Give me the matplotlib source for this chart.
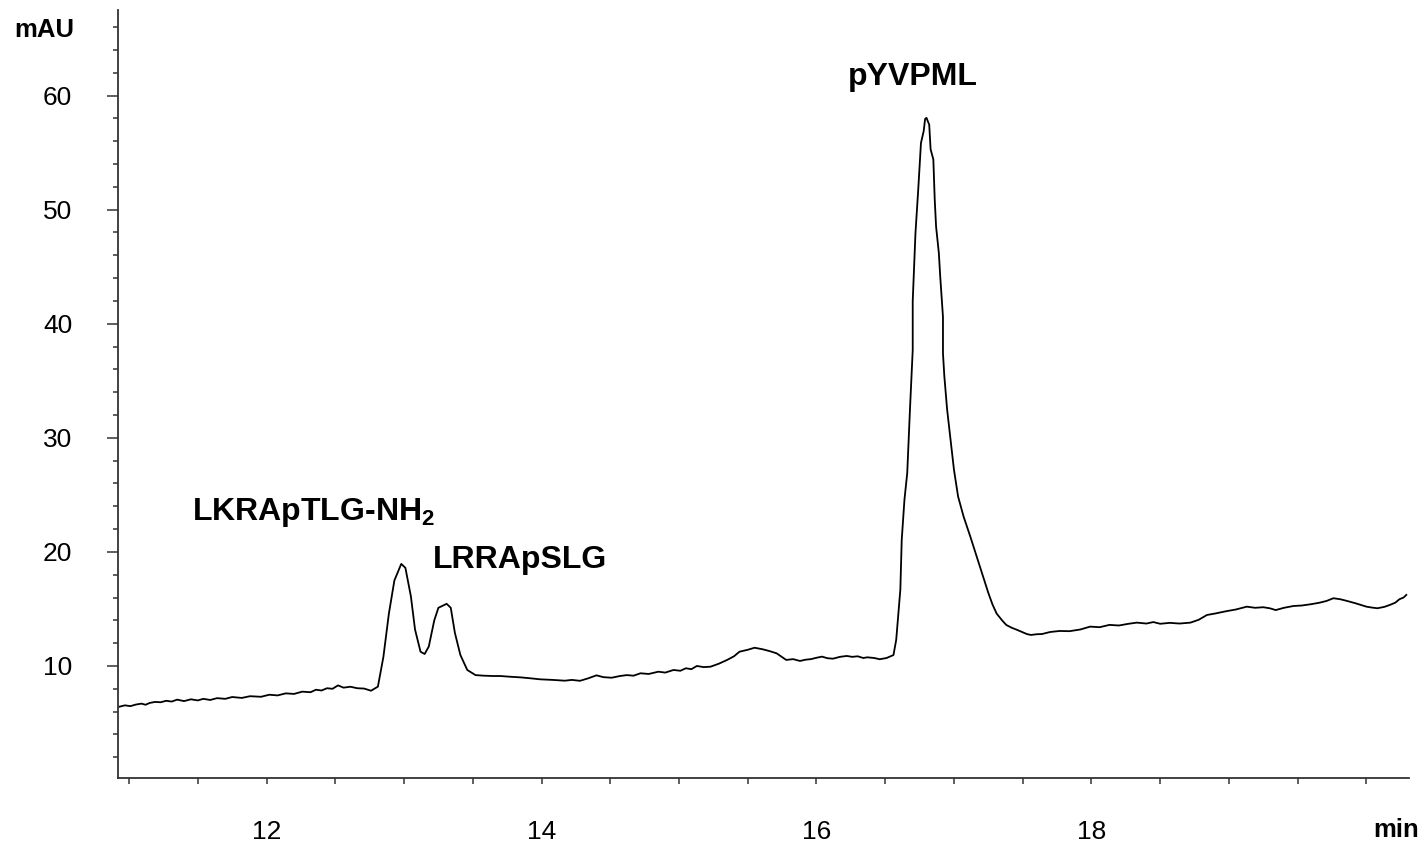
import matplotlib
matplotlib.use("Agg")
import matplotlib.pyplot as plt
from matplotlib.ticker import MultipleLocator, FixedLocator

plt.rcParams['font.family'] = ['Liberation Sans', 'DejaVu Sans']
plt.rcParams['mathtext.fontset'] = 'custom'
plt.rcParams['mathtext.rm'] = 'Liberation Sans'
plt.rcParams['mathtext.bf'] = 'Liberation Sans:bold'

# chromatogram trace (min, mAU)
time_min = [10.93, 10.97, 11.01, 11.05, 11.09, 11.12, 11.15, 11.19, 11.23, 11.27,
            11.31, 11.35, 11.40, 11.45, 11.50, 11.54, 11.59, 11.64, 11.70, 11.75,
            11.82, 11.88, 11.96, 12.02, 12.08, 12.14, 12.20, 12.26, 12.32, 12.36,
            12.40, 12.44, 12.48, 12.52, 12.56, 12.61, 12.66, 12.71, 12.76, 12.81,
            12.85, 12.89, 12.93, 12.98, 13.01, 13.05, 13.08, 13.12, 13.15, 13.18,
            13.22, 13.25, 13.31, 13.34, 13.37, 13.41, 13.46, 13.52, 13.58, 13.65,
            13.70, 13.78, 13.85, 13.92, 13.99, 14.08, 14.17, 14.22, 14.28, 14.34,
            14.40, 14.45, 14.51, 14.57, 14.62, 14.67, 14.72, 14.78, 14.85, 14.90,
            14.96, 15.01, 15.05, 15.09, 15.13, 15.18, 15.23, 15.29, 15.35, 15.40,
            15.44, 15.50, 15.55, 15.61, 15.66, 15.71, 15.78, 15.83, 15.88, 15.92,
            15.96, 16.00, 16.04, 16.08, 16.12, 16.17, 16.22, 16.26, 16.30, 16.34,
            16.37, 16.42, 16.46, 16.51, 16.56, 16.58, 16.61,
            16.62, 16.64, 16.66, 16.67, 16.68, 16.70, 16.70, 16.72, 16.74, 16.76,
            16.78, 16.79, 16.80, 16.82, 16.83, 16.85, 16.86, 16.87, 16.89, 16.90,
            16.92, 16.92, 16.93, 16.95, 16.97, 17.00, 17.03, 17.07, 17.12, 17.16,
            17.19, 17.25, 17.28, 17.31, 17.35, 17.38, 17.42, 17.46, 17.50, 17.53,
            17.56, 17.60, 17.64, 17.70, 17.77, 17.84, 17.92, 17.99, 18.06, 18.13,
            18.20, 18.27, 18.33, 18.40, 18.45, 18.50, 18.57, 18.64, 18.72, 18.78,
            18.84, 18.90, 18.98, 19.05, 19.13, 19.19, 19.25, 19.30, 19.34, 19.40,
            19.47, 19.53, 19.60, 19.66, 19.71, 19.76, 19.81, 19.85, 19.92, 19.96,
            20.00, 20.04, 20.08, 20.13, 20.17, 20.21, 20.24, 20.27, 20.29]
absorbance = [6.43, 6.55, 6.48, 6.62, 6.70, 6.60, 6.76, 6.85, 6.82, 6.95,
              6.88, 7.05, 6.92, 7.08, 6.98, 7.12, 7.02, 7.18, 7.12, 7.28,
              7.20, 7.35, 7.30, 7.48, 7.42, 7.60, 7.55, 7.75, 7.70, 7.92,
              7.85, 8.05, 8.00, 8.30, 8.10, 8.18, 8.05, 8.02, 7.83, 8.19,
              10.8, 14.6, 17.5, 18.95, 18.6, 16.1, 13.2, 11.25, 11.05, 11.7,
              14.0, 15.1, 15.45, 15.1, 12.9, 10.96, 9.65, 9.2, 9.15, 9.12,
              9.12, 9.05, 9.00, 8.92, 8.83, 8.78, 8.71, 8.78, 8.70, 8.92,
              9.18, 9.02, 8.97, 9.12, 9.20, 9.15, 9.36, 9.30, 9.50, 9.42,
              9.65, 9.58, 9.80, 9.72, 10.0, 9.90, 9.94, 10.20, 10.53, 10.85,
              11.25, 11.42, 11.6, 11.46, 11.30, 11.11, 10.53, 10.60, 10.44, 10.55,
              10.60, 10.72, 10.82, 10.68, 10.64, 10.80, 10.88, 10.80, 10.85, 10.70,
              10.76, 10.70, 10.59, 10.70, 10.96, 12.3, 16.7,
              21.05, 24.6, 26.9, 29.8, 32.5, 37.7, 42.0, 47.95, 51.75, 55.85,
              56.9, 57.95, 58.05, 57.45, 55.3, 54.4, 50.9, 48.5, 46.2, 44.15,
              40.6, 37.4, 35.4, 32.5, 30.4, 27.2, 24.85, 23.1, 21.3, 19.8,
              18.7, 16.4, 15.4, 14.6, 14.0, 13.6, 13.35, 13.16, 12.95, 12.8,
              12.72, 12.78, 12.80, 12.98, 13.07, 13.05, 13.20, 13.45, 13.40, 13.60,
              13.55, 13.70, 13.80, 13.72, 13.85, 13.70, 13.78, 13.72, 13.80, 14.05,
              14.47, 14.60, 14.80, 14.95, 15.20, 15.10, 15.15, 15.05, 14.90, 15.10,
              15.26, 15.30, 15.42, 15.55, 15.70, 15.94, 15.85, 15.73, 15.50, 15.35,
              15.20, 15.12, 15.06, 15.18, 15.35, 15.55, 15.85, 16.00, 16.23]

x_labels = [12, 14, 16, 18]
y_labels = [10, 20, 30, 40, 50, 60]

peak_names = ['LKRApTLG-NH$_\\mathbf{2}$', 'LRRApSLG', 'pYVPML']
label_pos = [(11.46, 22.8), (13.21, 18.6), (16.23, 60.96)]

fig = plt.figure(figsize=(14.24, 8.43), dpi=100)
ax = fig.add_axes([0.0829, 0.0771, 0.9066, 0.9110])

ax.plot(time_min, absorbance, color='black', lw=1.3)

ax.set_xlim(10.92, 20.31)
ax.set_ylim(0.18, 67.5)

for s in ['top', 'right']:
    ax.spines[s].set_visible(False)
for s in ['left', 'bottom']:
    ax.spines[s].set_color('#333333')
    ax.spines[s].set_linewidth(1.3)

ax.xaxis.set_major_locator(FixedLocator(x_labels))
ax.xaxis.set_minor_locator(MultipleLocator(0.5))
ax.yaxis.set_major_locator(FixedLocator(y_labels))
ax.yaxis.set_minor_locator(MultipleLocator(2))

ax.tick_params(axis='x', which='both', direction='out', length=4, width=1.1,
               color='#333333', labelsize=19, pad=26)
ax.tick_params(axis='y', which='major', direction='out', length=8, width=1.1,
               color='#333333', labelsize=19, pad=25)
ax.tick_params(axis='y', which='minor', direction='out', length=3.5, width=1.1,
               color='#333333')

for name, (tx, ty) in zip(peak_names, label_pos):
    ax.text(tx, ty, name, fontsize=23, fontweight='bold', ha='left', va='baseline')

fig.text(14 / 1424, 1 - 37 / 843, 'mAU', fontsize=18.5, fontweight='bold',
         ha='left', va='baseline')
fig.text(1419 / 1424, 1 - 837 / 843, 'min', fontsize=18.5, fontweight='bold',
         ha='right', va='baseline')

fig.savefig('out.png', dpi=100)
